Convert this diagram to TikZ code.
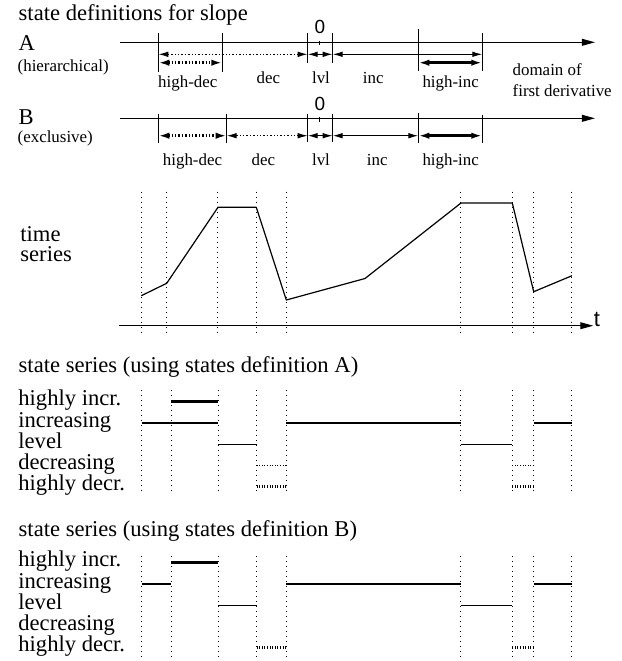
\documentclass[tikz,border=0pt]{standalone}
\usepackage{fontspec}
\setmainfont{Liberation Serif}
\newfontfamily\axisfont{Liberation Sans}
\usetikzlibrary{arrows.meta, positioning}

\begin{document}
\begin{tikzpicture}[x=0.5pt, y=-0.5pt,
    big/.style={font=\fontsize{11.3}{13}\selectfont, inner sep=0pt, anchor=base west},
    small/.style={font=\fontsize{8.45}{10}\selectfont, inner sep=0pt, anchor=base},
    zero/.style={font=\axisfont\fontsize{9.5}{10}\selectfont, inner sep=0pt, anchor=base},
    tick/.style={line width=0.5pt},
    guide/.style={line width=0.5pt, dotted},
    axis/.style={line width=0.6pt, -{Triangle[length=6.5pt, width=3.4pt]}},
    rng/.style={line width=0.55pt, {Latex[length=5pt, width=2.8pt]}-{Latex[length=5pt, width=2.8pt]}},
    rngthick/.style={line width=1.3pt, {Latex[length=5.5pt, width=3.2pt]}-{Latex[length=5.5pt, width=3.2pt]}},
    rngdot/.style={dash pattern=on 0.7pt off 1pt},
    seg/.style={line width=0.6pt},
    segthick/.style={line width=1.5pt},
    segdot/.style={line width=0.9pt, dash pattern=on 0.5pt off 0.8pt},
    segdotthick/.style={line width=1.4pt, dash pattern=on 0.5pt off 0.8pt}]
  \useasboundingbox (0,0) rectangle (622,661);

  % state definitions
  \node[big] (title) at (18.3,20.7) {state definitions for slope};
  \node[big] (defA) at (18.3,50.7) {A};
  \node[small, anchor=base west] (hier) at (17.3,71.3) {(hierarchical)};
  \node[big] (defB) at (18.3,124) {B};
  \node[small, anchor=base west] (excl) at (17.3,142.3) {(exclusive)};

  \draw[axis] (120,42.3) -- (595,42.3);
  \foreach \x/\t/\b [count=\i] in {158.3/33.3/71.7, 222.3/33.3/71.7, 307.7/33.3/62.7,
      332.7/33.3/62.7, 418.3/29.3/71, 482.3/33.3/71} {
    \draw[tick] (\x,\t) -- (\x,\b);
    \coordinate (pa\i) at (\x,54.3);
    \coordinate (qa\i) at (\x,62.7);
  }
  \draw[tick] (320,40.7) -- (320,45);
  \node[zero] (zeroA) at (320,33.3) {0};
  \draw[rng, rngdot] (pa1) -- (pa3);
  \draw[rng] (pa3) -- (pa4);
  \draw[rng] (pa4) -- (pa6);
  \draw[rngthick, rngdot] (qa1) -- (qa2);
  \draw[rngthick] (qa5) -- (qa6);
  \foreach \lbl/\x/\y in {high-dec/187.8/87.3, dec/268.3/83.3, lvl/321/83.3,
      inc/373.3/83.3, high-inc/450.7/87.3}
    \node[small] (la-\lbl) at (\x,\y) {\lbl};
  \node[small, anchor=base west] (domain) at (512.3,75) {domain of};
  \node[small, anchor=base west] (deriv) at (512.3,96.7) {first derivative};

  \draw[axis] (120,118.3) -- (595,118.3);
  \foreach \x/\t/\b [count=\i] in {158.3/114.3/143.3, 226.7/114.3/143.3, 307.7/114.3/141.7,
      332.7/114.3/141.7, 418.3/113.3/143.3, 482.3/115/143.3} {
    \draw[tick] (\x,\t) -- (\x,\b);
    \coordinate (pb\i) at (\x,135.7);
  }
  \draw[tick] (320,116.7) -- (320,121.7);
  \node[zero] (zeroB) at (320,110) {0};
  \draw[rngthick, rngdot] (pb1) -- (pb2);
  \draw[rng, rngdot] (pb2) -- (pb3);
  \draw[rng] (pb3) -- (pb4);
  \draw[rng] (pb4) -- (pb5);
  \draw[rngthick] (pb5) -- (pb6);
  \foreach \lbl/\x in {high-dec/192.5, dec/263.3, lvl/321, inc/377.3, high-inc/450.7}
    \node[small] (lb-\lbl) at (\x,165.7) {\lbl};

  % time series
  \node[big] (time) at (20,241.7) {time};
  \node[big] (series) at (20,261.7) {series};
  \foreach \x in {141.3,166.7,218,256.3,286.3,461,512.3,533.7,572}
    \draw[guide] (\x,191.7) -- (\x,334);
  \draw[axis] (119,325.7) -- (593.3,325.7);
  \node[zero, font=\axisfont\fontsize{11}{12}\selectfont, anchor=base west] (tlbl) at (593.5,326.5) {t};
  \draw[seg, line join=round] (141.3,295.7) -- (166.7,283.3) -- (218,207.3) -- (256.3,207.3)
    -- (286.3,300) -- (365,278.5) -- (461,203) -- (512.3,203) -- (533.7,291.7) -- (572,275.7);

  % state series
  \node[big] (serA) at (18.3,372) {state series (using states definition A)};
  \node[big] (serB) at (18.3,536) {state series (using states definition B)};
  \foreach \t [count=\r from 0] in {highly incr., increasing, level, decreasing, highly decr.} {
    \coordinate (ra\r) at (0,401.8+21.25*\r);
    \coordinate (rb\r) at (0,562.8+21.25*\r);
    \node[big] (sa\r) at (18,405.8+21.25*\r) {\t};
    \node[big] (sb\r) at (18,566.8+21.25*\r) {\t};
  }
  \foreach \x [count=\i] in {141.7,171.5,218.3,256.7,286.3,461,512.3,533.7,572} {
    \coordinate (g\i) at (\x,0);
    \draw[guide] (\x,390) -- (\x,493);
    \draw[guide] (\x,556) -- (\x,658);
  }
  \foreach \a/\b/\r/\s in {1/3/1/seg, 2/3/0/segthick, 3/4/2/seg, 4/5/3/segdot, 4/5/4/segdotthick,
      5/6/1/seg, 6/7/2/seg, 7/8/3/segdot, 7/8/4/segdotthick, 8/9/1/seg}
    \draw[\s] (g\a |- ra\r) -- (g\b |- ra\r);
  \foreach \a/\b/\r/\s in {1/2/1/seg, 2/3/0/segthick, 3/4/2/seg, 4/5/4/segdotthick,
      5/6/1/seg, 6/7/2/seg, 7/8/4/segdotthick, 8/9/1/seg}
    \draw[\s] (g\a |- rb\r) -- (g\b |- rb\r);
\end{tikzpicture}
\end{document}
